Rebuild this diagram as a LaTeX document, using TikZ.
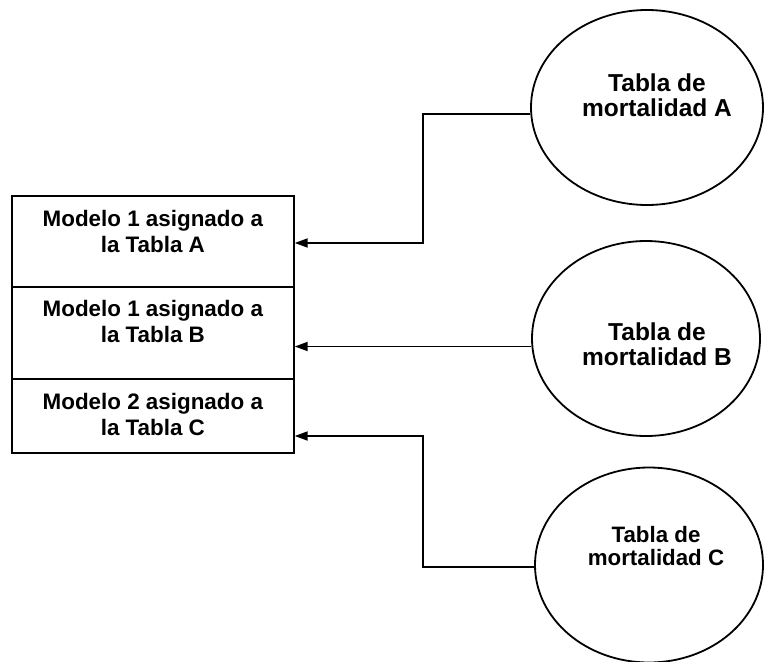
\documentclass[tikz,border=0pt]{standalone}
\usepackage{fontspec}
\setmainfont{Liberation Sans}
\usetikzlibrary{positioning,shapes.geometric,arrows.meta}

\begin{document}
\begin{tikzpicture}[x=1pt,y=-1pt,
    caja/.style={draw,line width=2pt,minimum width=281.7pt,inner sep=0pt},
    txt/.style={align=center,inner sep=0pt,font=\bfseries\fontsize{22.4}{26.5}\selectfont},
    tabla/.style={draw,ellipse,line width=1.8pt,minimum height=195pt,inner sep=0pt},
    grande/.style={align=center,inner sep=0pt,font=\bfseries\fontsize{24.5}{25}\selectfont},
    flecha/.style={line width=1.8pt,-{Triangle[length=13pt,width=9pt]}}]
  \useasboundingbox (0,0) rectangle (765,661) ;
  % modelos
  \node[caja,minimum height=91pt] (m1) at (152.85,241.5) {} ;
  \node[caja,minimum height=92pt] (m2) at (152.85,333) {} ;
  \node[caja,minimum height=74pt] (m3) at (152.85,416) {} ;
  \node[txt,below=15pt of m1.north] {Modelo 1 asignado a\\la Tabla A} ;
  \node[txt,below=14pt of m2.north] {Modelo 1 asignado a\\la Tabla B} ;
  \node[txt,below=15pt of m3.north] {Modelo 2 asignado a\\la Tabla C} ;
  % tablas
  \node[tabla,minimum width=232pt] (tA) at (647,107.5) {} ;
  \node[tabla,minimum width=228pt] (tB) at (646,338.5) {} ;
  \node[tabla,minimum width=228pt] (tC) at (649,565) {} ;
  \node[grande] at (657,95.4) {Tabla de\\mortalidad A} ;
  \node[grande] at (657,344) {Tabla de\\mortalidad B} ;
  \node[txt,font=\bfseries\fontsize{22.3}{22.5}\selectfont] at (656,546) %
    {Tabla de\\mortalidad C} ;
  % conexiones
  \coordinate (kA) at (423,243) ;
  \coordinate (kC) at (423,436) ;
  \draw[flecha] (tA.183) -| (kA) -- (kA -| m1.east) ;
  \draw[flecha] (tB.184) -- (tB.184 -| m2.east) ;
  \draw[flecha] (tC.181) -| (kC) -- (kC -| m3.east) ;
\end{tikzpicture}
\end{document}
